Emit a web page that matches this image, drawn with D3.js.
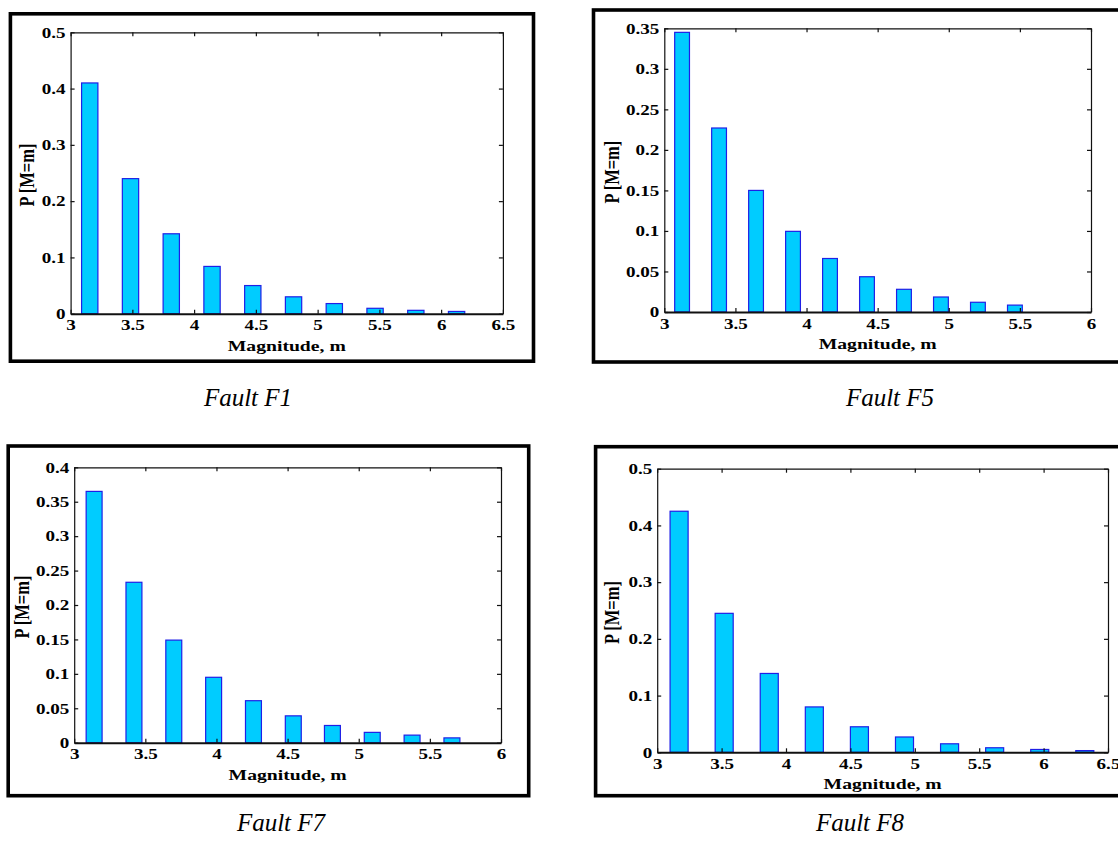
<!DOCTYPE html>
<html>
<head>
<meta charset="utf-8">
<script src="https://cdn.jsdelivr.net/npm/d3@7"></script>
<style>
  body { margin: 0; background: #fff; }
  svg { display: block; }
  text { font-family: "Liberation Serif", "Times New Roman", serif; fill: #000; }
</style>
</head>
<body>
<svg id="chart" width="1118" height="841"></svg>
<script>
// magnitude bins (bar centres) and probabilities
const magF1  = [3.155, 3.485, 3.815, 4.145, 4.475, 4.805, 5.135, 5.465, 5.795, 6.125];
const probF1 = [0.41, 0.24, 0.142, 0.084, 0.05, 0.03, 0.018, 0.0096, 0.006, 0.004];

const magF5  = [3.125, 3.385, 3.645, 3.905, 4.165, 4.425, 4.685, 4.945, 5.205, 5.465];
const probF5 = [0.345, 0.227, 0.15, 0.0995, 0.066, 0.0435, 0.028, 0.0185, 0.012, 0.0085];

const magF7  = [3.14, 3.42, 3.70, 3.98, 4.26, 4.54, 4.815, 5.095, 5.375, 5.655];
const probF7 = [0.365, 0.233, 0.149, 0.095, 0.061, 0.039, 0.025, 0.015, 0.011, 0.007];

const magF8  = [3.17, 3.52, 3.87, 4.22, 4.57, 4.92, 5.27, 5.62, 5.97, 6.32];
const probF8 = [0.425, 0.245, 0.139, 0.08, 0.045, 0.027, 0.015, 0.008, 0.005, 0.003];

// axis ticks
const xTicks65 = [3, 3.5, 4, 4.5, 5, 5.5, 6, 6.5];
const xTicks6  = [3, 3.5, 4, 4.5, 5, 5.5, 6];
const yTicksF1 = [0, 0.1, 0.2, 0.3, 0.4, 0.5];
const yTicksF5 = [0, 0.05, 0.1, 0.15, 0.2, 0.25, 0.3, 0.35];
const yTicksF7 = [0, 0.05, 0.1, 0.15, 0.2, 0.25, 0.3, 0.35, 0.4];
const yTicksF8 = [0, 0.1, 0.2, 0.3, 0.4, 0.5];

const captions = ['Fault F1', 'Fault F5', 'Fault F7', 'Fault F8'];

const barFill = '#00ccff';
const barEdge = '#1f1fe6';
const stretch = 1.27; // the pasted figure is a bit wider than tall

//panel placement on the page: frame box, axes box, caption spot
const panels = [
  { mag: magF1, prob: probF1, xt: xTicks65, yt: yTicksF1, cap: captions[0],
    frame: [10.4, 13.8, 533.5, 361.2], plot: [70.6, 32.3, 502.9, 313.7], capAt: [248, 406], ylab: -44 },
  { mag: magF5, prob: probF5, xt: xTicks6, yt: yTicksF5, cap: captions[1],
    frame: [593.5, 10, 1130, 362], plot: [664.3, 28.3, 1091, 312], capAt: [890, 406], ylab: -53 },
  { mag: magF7, prob: probF7, xt: xTicks6, yt: yTicksF7, cap: captions[2],
    frame: [8.2, 446, 528.7, 795.7], plot: [74.2, 467.3, 501, 742.7], capAt: [281, 831], ylab: -53 },
  { mag: magF8, prob: probF8, xt: xTicks65, yt: yTicksF8, cap: captions[3],
    frame: [595.6, 446.7, 1130, 795.7], plot: [657.2, 468.7, 1108, 752.3], capAt: [860, 831], ylab: -46 }
];

const svg = d3.select('#chart');
const fmt = d => String(+d.toFixed(2));

var drawPanel = function (p) {
  var f = p.frame;
  svg.append('rect')
    .attr('x', f[0]).attr('y', f[1])
    .attr('width', f[2] - f[0]).attr('height', f[3] - f[1])
    .attr('fill', 'none').attr('stroke', '#000').attr('stroke-width', 3.6);

  var left = p.plot[0], top = p.plot[1], right = p.plot[2], bottom = p.plot[3];
  var x = d3.scaleLinear().domain(d3.extent(p.xt)).range([left, right]);
  var y = d3.scaleLinear().domain(d3.extent(p.yt)).range([bottom, top]);

  var g = svg.append('g');

  // bars
  var bw = 0.4 * (p.mag[1] - p.mag[0]);
  g.selectAll('rect.bar')
    .data(p.mag.map((m, i) => ({ m: m, v: p.prob[i] })))
    .enter()
    .append('rect')
    .attr('class', 'bar')
    .attr('x', d => x(d.m - bw / 2))
    .attr('width', d => x(d.m + bw / 2) - x(d.m - bw / 2))
    .attr('y', d => y(d.v))
    .attr('height', d => y(0) - y(d.v))
    .attr('fill', barFill)
    .attr('stroke', barEdge)
    .attr('stroke-width', 1.2);

  // axes, ticks pointing inwards on all four sides
  var xb = g.append('g').attr('transform', 'translate(0,' + bottom + ')')
    .call(d3.axisBottom(x).tickValues(p.xt).tickFormat(fmt).tickSizeInner(-4).tickSizeOuter(0).tickPadding(6));
  var yl = g.append('g').attr('transform', 'translate(' + left + ',0)')
    .call(d3.axisLeft(y).tickValues(p.yt).tickFormat(fmt).tickSizeInner(-4).tickSizeOuter(0).tickPadding(5));
  var xt = g.append('g').attr('transform', 'translate(0,' + top + ')')
    .call(d3.axisTop(x).tickValues(p.xt).tickFormat('').tickSizeInner(-4).tickSizeOuter(0));
  var yr = g.append('g').attr('transform', 'translate(' + right + ',0)')
    .call(d3.axisRight(y).tickValues(p.yt).tickFormat('').tickSizeInner(-4).tickSizeOuter(0));

  [xb, yl, xt, yr].forEach(function (a) {
    a.select('.domain').attr('stroke', '#111').attr('stroke-width', 1.2);
    a.selectAll('.tick line').attr('stroke', '#111').attr('stroke-width', 1.2);
  });
  xb.select('.domain').attr('stroke-width', 2);

  xb.selectAll('.tick text')
    .attr('font-size', 15).attr('font-weight', 'bold')
    .attr('transform', 'scale(' + stretch + ',1)');
  yl.selectAll('.tick text')
    .attr('font-size', 15).attr('font-weight', 'bold')
    .attr('x', -5 / stretch)
    .attr('transform', 'scale(' + stretch + ',1)');

  // axis titles
  svg.append('text')
    .attr('transform', 'translate(' + (left + right) / 2 + ',' + (bottom + 37) + ') scale(' + stretch + ',1)')
    .attr('text-anchor', 'middle')
    .attr('font-size', 15.5).attr('font-weight', 'bold')
    .text('Magnitude, m');
  svg.append('text')
    .attr('transform', 'translate(' + (left + p.ylab) + ',' + ((top + bottom) / 2 + 2) + ') scale(' + stretch + ',1) rotate(-90)')
    .attr('text-anchor', 'middle')
    .attr('dy', '0.35em')
    .attr('font-size', 16.5).attr('font-weight', 'bold')
    .text('P [M=m]');

  //caption under the frame
  svg.append('text')
    .attr('x', p.capAt[0]).attr('y', p.capAt[1])
    .attr('text-anchor', 'middle')
    .attr('font-size', 25).attr('font-style', 'italic')
    .text(p.cap);
};

panels.forEach(drawPanel);
</script>
</body>
</html>
